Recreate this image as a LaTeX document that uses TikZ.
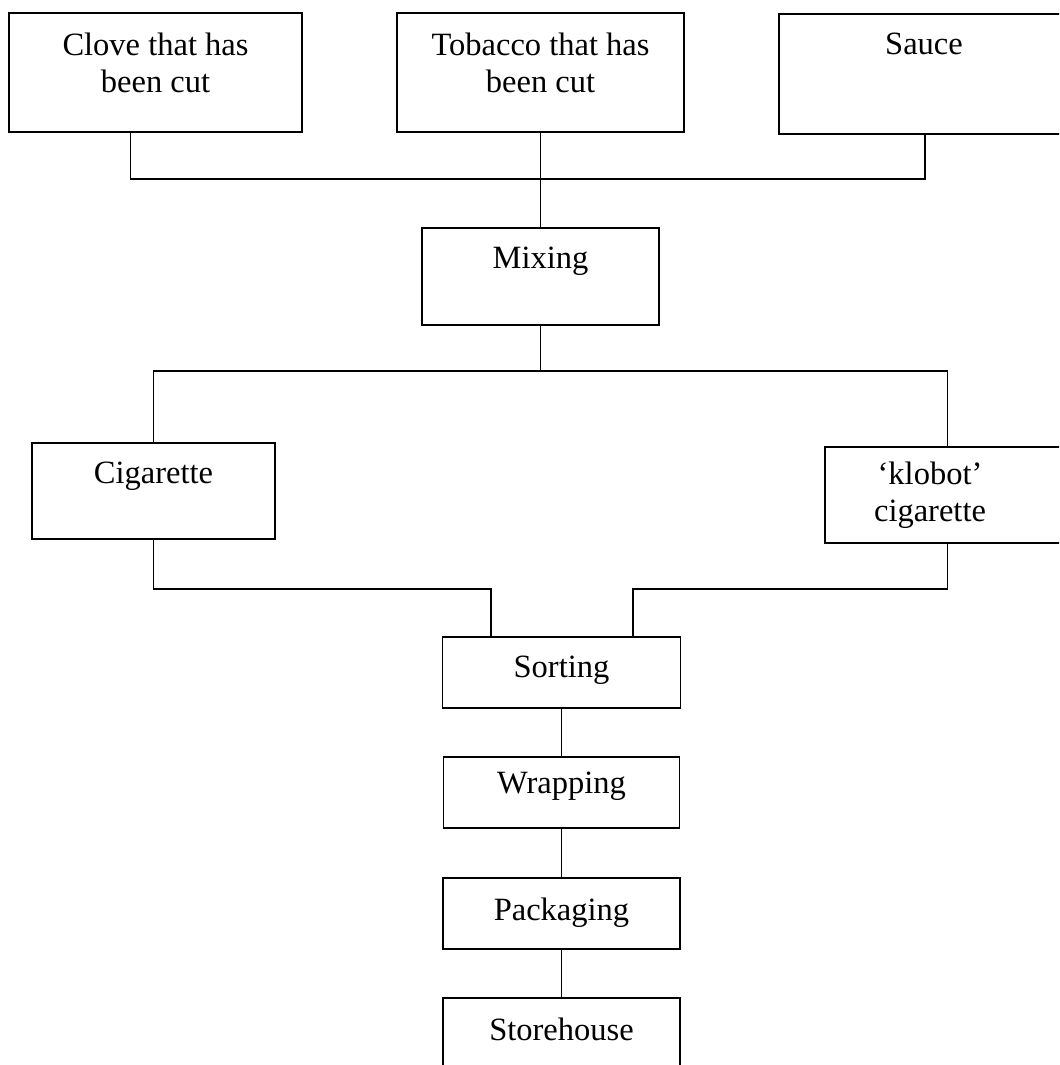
\documentclass[tikz,border=0pt]{standalone}
\usepackage{fontspec}
\setmainfont{Liberation Serif}
\usetikzlibrary{positioning}

\begin{document}
\begin{tikzpicture}
  [x=0.02cm,y=-0.02cm,
   box/.style={rectangle,draw=black,line width=1pt,inner sep=0pt},
   size/.style 2 args={minimum width=#1*0.02cm,minimum height=#2*0.02cm},
   boxtext/.style={anchor=north,align=center,inner sep=0pt,yshift=-0.4cm,
                   font=\fontsize{18.5}{21.5}\selectfont},
   link/.style={draw=black,line width=1pt}]
  \clip (0,0) rectangle (1059,1065);
  \node at (155.5,72.5) [box,size={293}{119},label={[boxtext]north:Clove that has\\been cut}] (clove) {};
  \node at (540.5,72.5) [box,size={287}{119},label={[boxtext]north:Tobacco that has\\been cut}] (tobacco) {};
  \node at (925,74) [box,size={292}{120},label={[boxtext,xshift=-0.02cm]north:Sauce}] (sauce) {};
  \node at (540.5,276.5) [box,size={237}{97},label={[boxtext]north:Mixing}] (mixing) {};
  \node at (153.5,491) [box,size={243}{96},label={[boxtext]north:Cigarette}] (cigarette) {};
  \node at (947.5,495) [box,size={245}{96},label={[boxtext,yshift=0.1cm,xshift=-0.35cm]north:`klobot'\\cigarette}] (klobot) {};
  \node at (561.5,672.5) [box,size={238}{71},label={[boxtext]north:Sorting}] (sorting) {};
  \node at (561.5,792.5) [box,size={236}{71},label={[boxtext,yshift=0.1cm]north:Wrapping}] (wrapping) {};
  \node at (561.5,913.5) [box,size={237}{71},label={[boxtext]north:Packaging}] (packaging) {};
  \node at (561.5,1039) [box,size={237}{82},label={[boxtext]north:Storehouse}] (storehouse) {};

  \coordinate (join1) at (540.5,179);
  \coordinate (join2) at (540.5,371);
  \coordinate (joinleft) at (491,589);
  \coordinate (joinright) at (633,589);

  \draw [link] ([xshift=-0.5cm]clove.south) |- (join1) -| (sauce.south);
  \draw [link] (tobacco.south) -- (mixing.north);
  \draw [link] (mixing.south) -- (join2);
  \draw [link] (cigarette.north) |- (join2) -| (klobot.north);
  \draw [link] (cigarette.south) |- (joinleft) -- (joinleft |- sorting.north);
  \draw [link] (klobot.south) |- (joinright) -- (joinright |- sorting.north);
  \draw [link] (sorting.south) -- (wrapping.north);
  \draw [link] (wrapping.south) -- (packaging.north);
  \draw [link] (packaging.south) -- (storehouse.north);
\end{tikzpicture}
\end{document}
